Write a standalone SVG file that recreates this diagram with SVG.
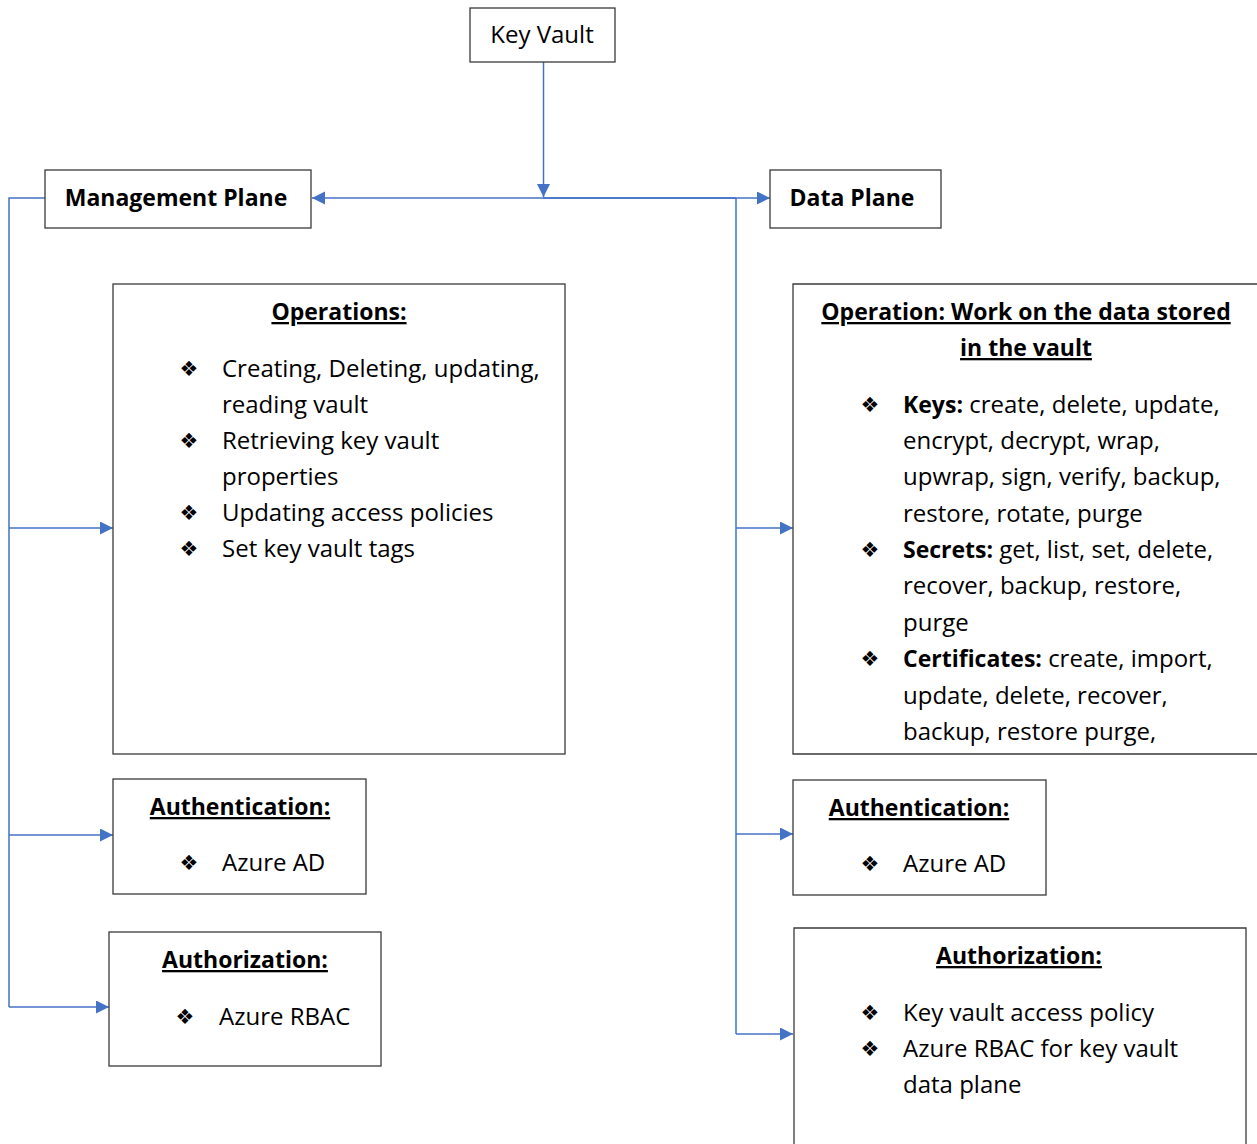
<svg xmlns="http://www.w3.org/2000/svg" width="1257" height="1144" viewBox="0 0 1257 1144">
<style>
.box{fill:#fff;stroke:#3a3a3a;stroke-width:1.3}
.t{font-family:"Open Sans","Liberation Sans",sans-serif;font-size:24px;fill:#000}
.b{font-weight:bold;font-size:23px}
.h{font-family:"Open Sans","Liberation Sans",sans-serif;font-size:23px;font-weight:bold;text-decoration:underline;text-anchor:middle;fill:#000}
.bul{font-family:"DejaVu Sans",sans-serif;font-size:21px;fill:#000;text-anchor:middle}
.c{fill:none;stroke:#4472C4;stroke-width:1.5}
</style>
<defs>
<marker id="ah" markerUnits="userSpaceOnUse" markerWidth="14" markerHeight="14" refX="13" refY="6.5" orient="auto">
<path d="M0,0 L13,6.5 L0,13 Z" fill="#4472C4"/>
</marker>
</defs>
<g id="connectors">
<line class="c" x1="543.5" y1="62" x2="543.5" y2="197" marker-end="url(#ah)"/>
<line class="c" x1="736" y1="198" x2="312" y2="198" marker-end="url(#ah)"/>
<line class="c" x1="543" y1="198" x2="770" y2="198" marker-end="url(#ah)"/>
<polyline class="c" points="45,198 9,198 9,1007"/>
<line class="c" x1="9" y1="528" x2="113" y2="528" marker-end="url(#ah)"/>
<line class="c" x1="9" y1="835" x2="113" y2="835" marker-end="url(#ah)"/>
<line class="c" x1="9" y1="1007" x2="109" y2="1007" marker-end="url(#ah)"/>
<line class="c" x1="736" y1="198" x2="736" y2="1034"/>
<line class="c" x1="736" y1="528" x2="793" y2="528" marker-end="url(#ah)"/>
<line class="c" x1="736" y1="834" x2="793" y2="834" marker-end="url(#ah)"/>
<line class="c" x1="736" y1="1034" x2="793" y2="1034" marker-end="url(#ah)"/>
</g>
<g id="key-vault">
<rect class="box" x="470" y="8" width="145" height="54"/>
<text class="t" x="542" y="43" text-anchor="middle">Key Vault</text>
</g>
<g id="management-plane">
<rect class="box" x="45" y="170" width="266" height="58"/>
<text class="t b" x="176" y="206" text-anchor="middle">Management Plane</text>
</g>
<g id="data-plane">
<rect class="box" x="770" y="170" width="171" height="58"/>
<text class="t b" x="852" y="206" text-anchor="middle">Data Plane</text>
</g>
<g id="mgmt-operations">
<rect class="box" x="113" y="284" width="452" height="470"/>
<text class="h" x="339" y="320">Operations:</text>
<text class="bul" x="189" y="376">❖</text>
<text class="t" x="222" y="377">Creating, Deleting, updating,</text>
<text class="t" x="222" y="413">reading vault</text>
<text class="bul" x="189" y="448">❖</text>
<text class="t" x="222" y="449">Retrieving key vault</text>
<text class="t" x="222" y="485">properties</text>
<text class="bul" x="189" y="520">❖</text>
<text class="t" x="222" y="521">Updating access policies</text>
<text class="bul" x="189" y="556">❖</text>
<text class="t" x="222" y="557">Set key vault tags</text>
</g>
<g id="mgmt-authentication">
<rect class="box" x="113" y="779" width="253" height="115"/>
<text class="h" x="240" y="815">Authentication:</text>
<text class="bul" x="189" y="870">❖</text>
<text class="t" x="222" y="871">Azure AD</text>
</g>
<g id="mgmt-authorization">
<rect class="box" x="109" y="932" width="272" height="134"/>
<text class="h" x="245" y="968">Authorization:</text>
<text class="bul" x="185" y="1024">❖</text>
<text class="t" x="219" y="1025">Azure RBAC</text>
</g>
<g id="data-operations">
<path class="box" d="M1258,284 H793 V754 H1258"/>
<text class="h" x="1026" y="320">Operation: Work on the data stored</text>
<text class="h" x="1026" y="356">in the vault</text>
<text class="bul" x="870" y="412">❖</text>
<text class="t" x="903" y="413"><tspan class="b">Keys:</tspan> create, delete, update,</text>
<text class="t" x="903" y="449">encrypt, decrypt, wrap,</text>
<text class="t" x="903" y="485">upwrap, sign, verify, backup,</text>
<text class="t" x="903" y="522">restore, rotate, purge</text>
<text class="bul" x="870" y="557">❖</text>
<text class="t" x="903" y="558"><tspan class="b">Secrets:</tspan> get, list, set, delete,</text>
<text class="t" x="903" y="594">recover, backup, restore,</text>
<text class="t" x="903" y="631">purge</text>
<text class="bul" x="870" y="666">❖</text>
<text class="t" x="903" y="667"><tspan class="b">Certificates:</tspan> create, import,</text>
<text class="t" x="903" y="704">update, delete, recover,</text>
<text class="t" x="903" y="740">backup, restore purge,</text>
</g>
<g id="data-authentication">
<rect class="box" x="793" y="780" width="253" height="115"/>
<text class="h" x="919" y="816">Authentication:</text>
<text class="bul" x="870" y="871">❖</text>
<text class="t" x="903" y="872">Azure AD</text>
</g>
<g id="data-authorization">
<path class="box" d="M794,1145 V928 H1246 V1145"/>
<text class="h" x="1019" y="964">Authorization:</text>
<text class="bul" x="870" y="1020">❖</text>
<text class="t" x="903" y="1021">Key vault access policy</text>
<text class="bul" x="870" y="1056">❖</text>
<text class="t" x="903" y="1057">Azure RBAC for key vault</text>
<text class="t" x="903" y="1093">data plane</text>
</g>
</svg>
